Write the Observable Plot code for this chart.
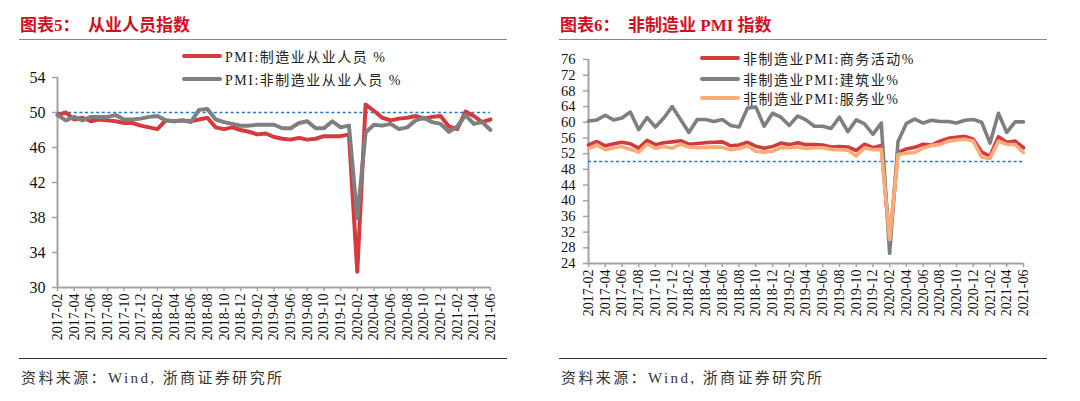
<!DOCTYPE html>
<html>
<head>
<meta charset="utf-8">
<script src="https://cdn.jsdelivr.net/npm/d3@7"></script>
<script src="https://cdn.jsdelivr.net/npm/@observablehq/plot@0.6"></script>
<style>
  html, body { margin: 0; padding: 0; background: #fff; }
  body { width: 1080px; height: 401px; position: relative; overflow: hidden; }
  .abs { position: absolute; }
  .title { font-family: "Liberation Serif", "Noto Sans CJK SC", sans-serif; font-weight: bold; font-size: 17px; color: #d0101c; line-height: 20px; white-space: pre; }
  .rule-top { height: 0; border-top: 1.6px solid #8a8a8a; }
  .rule-bot { height: 0; border-top: 1.2px solid #333; }
  .source { font-family: "Liberation Serif", "Noto Sans CJK SC", serif; font-size: 15px; color: #333; letter-spacing: 2.4px; line-height: 20px; white-space: pre; }
  .lg { display: flex; align-items: center; height: 20px; font-family: "Liberation Serif", "Noto Sans CJK SC", serif; font-size: 14px; color: #222; letter-spacing: 1.5px; white-space: pre; }
  .sw { display: inline-block; width: 40px; height: 4px; margin-right: 3px; border-radius: 2px; }
</style>
</head>
<body>
<script>
// ---------- data ----------
const months = [
  "2017-02","2017-03","2017-04","2017-05","2017-06","2017-07","2017-08","2017-09","2017-10","2017-11","2017-12",
  "2018-01","2018-02","2018-03","2018-04","2018-05","2018-06","2018-07","2018-08","2018-09","2018-10","2018-11","2018-12",
  "2019-01","2019-02","2019-03","2019-04","2019-05","2019-06","2019-07","2019-08","2019-09","2019-10","2019-11","2019-12",
  "2020-01","2020-02","2020-03","2020-04","2020-05","2020-06","2020-07","2020-08","2020-09","2020-10","2020-11","2020-12",
  "2021-01","2021-02","2021-03","2021-04","2021-05","2021-06"
];
const xTickLabels = [
  "2017-02","2017-04","2017-06","2017-08","2017-10","2017-12","2018-02","2018-04","2018-06","2018-08",
  "2018-10","2018-12","2019-02","2019-04","2019-06","2019-08","2019-10","2019-12","2020-02","2020-04",
  "2020-06","2020-08","2020-10","2020-12","2021-02","2021-04","2021-06"
];

// Chart 5: employment indices
const mfgEmployment = [
  49.7, 50.0, 49.2, 49.4, 49.0, 49.2, 49.1, 49.0, 48.8, 48.8, 48.5,
  48.3, 48.1, 49.1, 49.0, 49.1, 49.0, 49.2, 49.4, 48.3, 48.1, 48.3, 48.0,
  47.8, 47.5, 47.6, 47.2, 47.0, 46.9, 47.1, 46.9, 47.0, 47.3, 47.3, 47.3,
  47.5, 31.8, 50.9, 50.2, 49.4, 49.1, 49.3, 49.4, 49.6, 49.3, 49.5, 49.6,
  48.4, 48.1, 50.1, 49.6, 48.9, 49.2
];
const nonMfgEmployment = [
  49.7, 49.1, 49.5, 49.1, 49.5, 49.5, 49.5, 49.7, 49.2, 49.2, 49.3,
  49.5, 49.6, 49.1, 49.0, 49.1, 48.9, 50.3, 50.4, 49.2, 48.9, 48.7, 48.5,
  48.5, 48.6, 48.6, 48.6, 48.2, 48.2, 48.8, 49.0, 48.2, 48.2, 49.0, 48.3,
  48.5, 37.9, 47.7, 48.6, 48.5, 48.7, 48.1, 48.3, 49.1, 49.4, 48.9, 48.7,
  47.8, 48.4, 49.7, 48.7, 48.9, 48.0
];
const leftYTicks = [30, 34, 38, 42, 46, 50, 54];

// Chart 6: non-manufacturing PMI
const businessActivity = [
  54.2, 55.1, 54.0, 54.5, 54.9, 54.5, 53.4, 55.4, 54.3, 54.8, 55.0,
  55.3, 54.4, 54.6, 54.8, 54.9, 55.0, 54.0, 54.2, 54.9, 53.9, 53.4, 53.8,
  54.7, 54.3, 54.8, 54.3, 54.3, 54.2, 53.7, 53.8, 53.7, 52.8, 54.4, 53.5,
  54.1, 29.6, 52.3, 53.2, 53.6, 54.4, 54.2, 55.2, 55.9, 56.2, 56.4, 55.7,
  52.4, 51.4, 56.3, 54.9, 55.2, 53.5
];
const construction = [
  60.3, 60.6, 61.8, 60.6, 61.1, 62.6, 58.1, 61.2, 58.8, 61.1, 64.0,
  60.7, 57.4, 60.7, 60.7, 60.2, 60.7, 59.2, 58.8, 63.6, 63.9, 59.0, 62.3,
  61.3, 59.2, 61.6, 60.6, 59.0, 59.0, 58.4, 61.3, 57.6, 60.6, 59.6, 56.9,
  59.8, 26.6, 55.1, 59.7, 60.8, 59.8, 60.5, 60.2, 60.2, 59.8, 60.5, 60.7,
  60.0, 54.7, 62.3, 57.4, 60.1, 60.1
];
const services = [
  53.3, 54.2, 53.0, 53.5, 53.8, 53.1, 52.4, 54.4, 53.4, 53.8, 53.4,
  54.4, 53.7, 53.5, 53.6, 53.7, 53.6, 53.0, 53.3, 54.0, 52.6, 52.4, 52.6,
  53.6, 53.5, 53.7, 53.3, 53.5, 53.5, 53.1, 53.0, 52.9, 51.4, 53.5, 53.0,
  53.1, 30.1, 51.8, 52.1, 52.3, 53.4, 54.1, 54.3, 55.2, 55.5, 55.7, 55.2,
  51.1, 50.8, 55.2, 54.4, 54.3, 52.3
];
const rightYTicks = [24, 28, 32, 36, 40, 44, 48, 52, 56, 60, 64, 68, 72, 76];
const threshold = [50];

const leftLegend = ["PMI:制造业从业人员 %", "PMI:非制造业从业人员 %"];
const rightLegend = ["非制造业PMI:商务活动%", "非制造业PMI:建筑业%", "非制造业PMI:服务业%"];

// ---------- helpers ----------
const tickIdx = xTickLabels.map(l => months.indexOf(l));
const AXIS = "#a3a3a3";
const TXT = "#111";
const SERIF = "'Liberation Serif', 'Noto Sans CJK SC', serif";

function el(tag, cls, style, text) {
  const e = document.createElement(tag);
  if (cls) e.className = cls;
  Object.assign(e.style, style);
  if (text != null) e.textContent = text;
  document.body.appendChild(e);
  return e;
}

function panel({left, title, yDomain, yTicks, series, colors, widths, mL, mR, mT, mB, yFont, yTickSize, yPad, legend, legendX, legendYs}) {
  el("div", "abs title", {left: (left + 20) + "px", top: "16px"}, title);
  el("div", "abs rule-top", {left: (left + 19) + "px", top: "39px", width: "488px"});
  const chart = Plot.plot({
    width: 540,
    height: 360,
    marginLeft: mL, marginRight: mR, marginTop: mT, marginBottom: mB,
    style: {background: "transparent", fontFamily: SERIF, color: TXT, overflow: "visible"},
    x: {domain: [0, months.length - 1], axis: null},
    y: {domain: yDomain, axis: null},
    marks: [
      Plot.axisY({ticks: yTicks, tickSize: yTickSize, tickPadding: yPad, stroke: AXIS, strokeWidth: 1.5, fill: TXT, fontSize: yFont, label: null}),
      Plot.axisX({ticks: tickIdx, tickFormat: i => months[i], tickRotate: -90, tickSize: 4, tickPadding: 2, stroke: AXIS, strokeWidth: 1.5, fill: TXT, fontSize: 14, label: null, style: {letterSpacing: "0.4px"}}),
      Plot.ruleX([0], {stroke: AXIS, strokeWidth: 2}),
      Plot.ruleY([yDomain[0]], {stroke: AXIS, strokeWidth: 2}),
      Plot.ruleY(threshold, {stroke: "#1f78d1", strokeWidth: 1.6, strokeDasharray: "3,2.6"}),
      ...series.map((s, k) => Plot.line(s, {x: (d, i) => i, y: d => d, stroke: colors[k], strokeWidth: widths[k], strokeLinejoin: "round", strokeLinecap: "round"}))
    ]
  });
  chart.style.position = "absolute";
  chart.style.left = left + "px";
  chart.style.top = "0px";
  document.body.appendChild(chart);

  legend.forEach((name, k) => {
    const row = el("div", "abs lg", {left: (left + legendX) + "px", top: (legendYs[k] - 10) + "px"});
    const sw = document.createElement("span");
    sw.className = "sw";
    sw.style.background = colors[k];
    row.appendChild(sw);
    const t = document.createElement("span");
    t.textContent = name;
    row.appendChild(t);
  });

  el("div", "abs rule-bot", {left: (left + 19) + "px", top: "358px", width: "488px"});
  el("div", "abs source", {left: (left + 21) + "px", top: "368px"}, "资料来源：Wind, 浙商证券研究所");
}

panel({
  left: 0,
  title: "图表5：  从业人员指数",
  yDomain: [30, 54], yTicks: leftYTicks,
  series: [mfgEmployment, nonMfgEmployment],
  colors: ["#d63a3c", "#7f7f7f"], widths: [4, 4],
  mL: 57, mR: 50, mT: 77, mB: 73,
  yFont: 16, yTickSize: 5, yPad: 7,
  legend: leftLegend, legendX: 182, legendYs: [56, 79]
});

panel({
  left: 540,
  title: "图表6：  非制造业 PMI 指数",
  yDomain: [24, 76], yTicks: rightYTicks,
  series: [businessActivity, construction, services],
  colors: ["#d13b3d", "#7f7f7f", "#f9ab78"], widths: [3.6, 3.6, 3.6],
  mL: 48, mR: 57, mT: 59, mB: 97,
  yFont: 14.5, yTickSize: 5, yPad: 8,
  legend: rightLegend, legendX: 160, legendYs: [58, 79, 98]
});
</script>
</body>
</html>
